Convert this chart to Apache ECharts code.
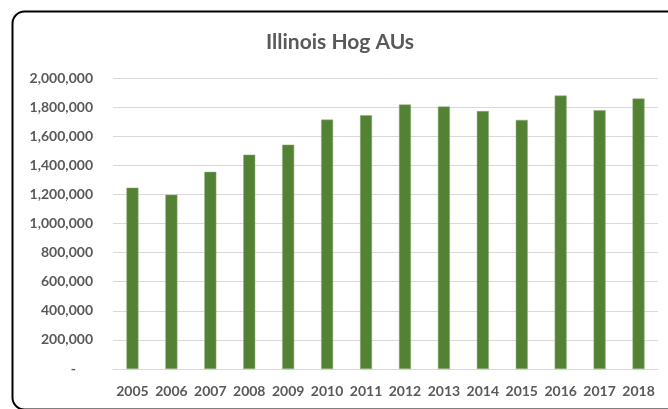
<!DOCTYPE html>
<html>
<head>
<meta charset="utf-8">
<script src="https://cdn.jsdelivr.net/npm/echarts@6/dist/echarts.min.js"></script>
<style>
  html, body { margin: 0; padding: 0; background: #fff; }
  #chart { width: 668px; height: 409px; }
</style>
</head>
<body>
<div id="chart"></div>
<script>
// values
const years = ['2005', '2006', '2007', '2008', '2009', '2010', '2011',
  '2012', '2013', '2014', '2015', '2016', '2017', '2018'];
const hogAUs = [1246000, 1198000, 1355000, 1473000, 1542000, 1714000, 1744000,
  1818000, 1804000, 1773000, 1712000, 1879000, 1779000, 1859000];

const textFont = 'Lato, "Liberation Sans", sans-serif';
const grey = '#595959';

let myChart = echarts.init(document.getElementById('chart'));

let option = {
  backgroundColor: '#fff',
  animation: false,
  title: {
    text: 'Illinois Hog AUs',
    left: 261,
    top: 27,
    textStyle: {
      color: grey,
      fontFamily: textFont,
      fontSize: 21,
      fontWeight: 'bold'
    }
  },
  // rounded frame round the chart
  graphic: [{
    type: 'rect',
    left: 10,
    top: 9,
    shape: { width: 668, height: 398, r: 12 },
    style: { fill: 'none', stroke: '#000', lineWidth: 2 },
    silent: true
  }],
  grid: {
    left: 113,
    right: 10,
    top: 78,
    bottom: 40
  },
  xAxis: {
    type: 'category',
    data: years,
    axisTick: { show: false },
    axisLine: { show: true, lineStyle: { color: '#d9d9d9', width: 1 } },
    axisLabel: {
      color: grey,
      fontFamily: textFont,
      fontSize: 14,
      fontWeight: 'bold',
      margin: 15,
      interval: 0
    }
  },
  yAxis: {
    type: 'value',
    min: 0,
    max: 2000000,
    interval: 200000,
    axisTick: { show: false },
    axisLine: { show: false },
    splitLine: { show: true, lineStyle: { color: '#d9d9d9', width: 1 } },
    axisLabel: {
      color: grey,
      fontFamily: textFont,
      fontSize: 14,
      fontWeight: 'bold',
      margin: 20,
      formatter: function (val) {
        if (val === 0) return '-     ';
        return val.toLocaleString('en-US');
      }
    }
  },
  series: [{
    name: 'Hog AUs',
    type: 'bar',
    data: hogAUs,
    barWidth: 12,
    itemStyle: {
      color: '#548235',
      borderColor: '#8fb07a',
      borderWidth: 0.5
    }
  }]
};

myChart.setOption(option);
</script>
</body>
</html>
